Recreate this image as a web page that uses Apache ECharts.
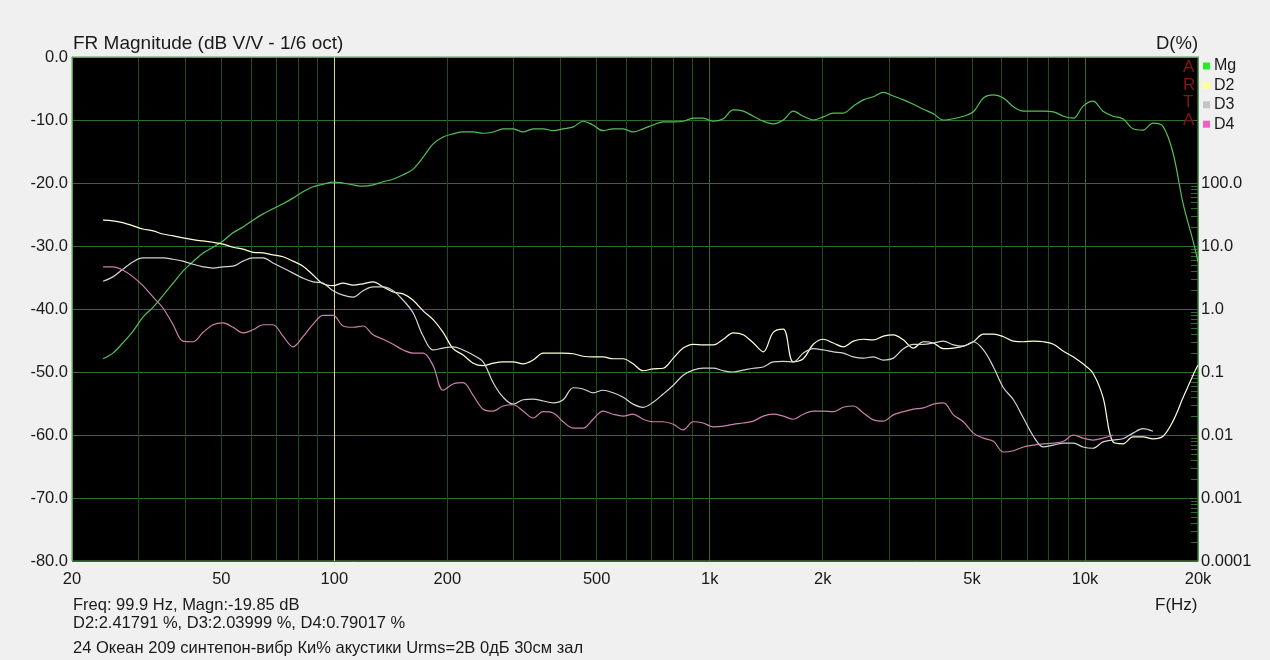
<!DOCTYPE html>
<html>
<head>
<meta charset="utf-8">
<title>FR Magnitude</title>
<script src="https://cdn.jsdelivr.net/npm/echarts@6/dist/echarts.min.js"></script>
<style>
  html, body { margin: 0; padding: 0; background: #f0f0f0; }
  #app { width: 1270px; height: 660px; }
</style>
</head>
<body>
<div id="app"></div>
<script>
// values: frequency in Hz, levels in dB (D% axis: 100% = -20 dB)
const freq = [
  24.2, 25.7, 27.3, 29.1, 30.9, 32.9, 34.9, 37.2, 39.5, 42.0,
  44.7, 47.5, 50.5, 53.7, 57.1, 60.7, 64.6, 68.6, 73.0, 77.6,
  82.5, 87.8, 93.3, 99.2, 105.5, 112.2, 119.3, 126.8, 134.9, 143.4,
  152.5, 162.1, 172.4, 183.3, 194.9, 207.2, 220.3, 234.3, 249.1, 264.9,
  281.6, 299.5, 318.4, 338.6, 360, 383, 407, 433, 460, 489,
  520, 553, 588, 625, 665, 707, 752, 800, 850, 904,
  961, 1022, 1087, 1156, 1229, 1307, 1389, 1477, 1571, 1670,
  1776, 1888, 2008, 2135, 2270, 2414, 2567, 2729, 2902, 3086,
  3281, 3489, 3710, 3945, 4194, 4460, 4742, 5042, 5361, 5701,
  6062, 6445, 6853, 7287, 7749, 8239, 8760, 9315, 9877, 10500,
  11165, 11870, 12620, 13420, 14270, 15175, 16135, 17155, 18240, 19400,
  20000
];
const magDb = [
  -47.9, -47.0, -45.4, -43.5, -41.3, -39.7, -37.9, -35.9, -34.0, -32.5,
  -31.1, -30.2, -29.2, -27.9, -27.0, -25.9, -24.9, -24.1, -23.3, -22.4,
  -21.4, -20.6, -20.2, -19.85, -20.0, -20.3, -20.5, -20.3, -19.8, -19.4,
  -18.7, -17.8, -15.9, -13.8, -12.7, -12.2, -11.9, -11.9, -12.1, -11.9,
  -11.4, -11.4, -11.9, -11.4, -11.4, -11.7, -11.4, -11.1, -10.2, -10.8,
  -11.7, -11.4, -11.4, -11.9, -11.4, -10.8, -10.3, -10.3, -10.2, -9.7,
  -9.7, -10.2, -9.8, -8.4, -8.6, -9.4, -10.2, -10.6, -10.0, -8.6,
  -9.4, -10.0, -9.5, -8.9, -8.9, -7.8, -6.8, -6.3, -5.6, -6.2,
  -6.8, -7.5, -8.3, -9.0, -10.0, -9.8, -9.4, -8.7, -6.5, -6.0,
  -6.5, -7.9, -8.6, -8.6, -8.6, -8.7, -9.4, -9.7, -7.8, -7.0,
  -8.6, -9.4, -9.8, -11.4, -11.6, -10.5, -11.0, -15.2, -23.2, -29.2,
  -32.5
];
const d2Db = [
  -25.9, -26.0, -26.3, -26.8, -27.3, -27.6, -28.1, -28.4, -28.7, -29.0,
  -29.2, -29.4, -29.7, -30.2, -30.5, -31.0, -31.1, -31.4, -31.7, -32.4,
  -33.2, -34.6, -36.0, -36.3, -35.9, -36.2, -36.0, -35.7, -36.5, -37.3,
  -37.6, -38.6, -40.3, -41.7, -43.7, -46.3, -47.3, -48.6, -49.0, -48.6,
  -48.4, -48.4, -48.7, -48.1, -47.0, -47.0, -47.0, -47.1, -47.5, -47.6,
  -47.6, -47.9, -47.9, -48.7, -49.8, -49.5, -49.4, -47.8, -46.2, -45.6,
  -45.7, -45.7, -44.8, -43.8, -44.1, -45.4, -46.8, -43.7, -43.2, -48.4,
  -47.9, -45.6, -44.8, -45.4, -46.0, -45.1, -44.8, -44.9, -44.3, -44.1,
  -44.9, -46.2, -45.2, -45.4, -46.3, -46.2, -45.9, -45.2, -44.0, -44.0,
  -44.4, -45.1, -45.2, -45.1, -45.2, -45.6, -46.7, -47.6, -48.7, -50.2,
  -54.0, -61.1, -61.4, -60.3, -60.3, -60.6, -60.2, -57.8, -54.1, -50.5,
  -48.9
];
const d3Db = [
  -35.6, -34.9, -33.7, -32.5, -31.9, -31.9, -31.9, -32.1, -32.4, -32.9,
  -33.3, -33.5, -33.3, -33.2, -32.4, -31.9, -31.9, -32.7, -33.5, -34.3,
  -35.1, -35.7, -35.9, -37.1, -37.8, -38.1, -37.1, -36.5, -36.5, -37.1,
  -38.6, -40.6, -44.3, -46.5, -46.2, -46.0, -46.5, -47.3, -48.4, -51.7,
  -54.0, -55.1, -54.4, -54.3, -54.6, -54.9, -54.4, -52.5, -52.7, -53.3,
  -52.9, -53.3, -54.0, -55.1, -55.6, -54.8, -53.5, -52.1, -50.5, -49.7,
  -49.4, -49.4, -49.8, -50.0, -49.7, -49.4, -49.2, -48.4, -48.3, -48.4,
  -47.0, -46.3, -46.5, -46.8, -47.0, -47.6, -47.8, -47.6, -48.1, -47.8,
  -46.3, -45.6, -45.6, -45.4, -45.1, -45.7, -45.9, -45.2, -46.5, -49.2,
  -52.5, -54.4, -57.3, -60.2, -61.9, -61.6, -61.3, -61.3, -61.9, -62.1,
  -61.1, -60.8, -60.6, -59.7, -59.0, -59.4, null, null, null, null,
  null
];
const d4Db = [
  -33.3, -33.3, -33.8, -34.9, -36.3, -38.1, -39.8, -42.5, -45.1, -45.2,
  -43.7, -42.5, -42.2, -42.9, -43.8, -43.3, -42.5, -42.5, -44.3, -46.0,
  -44.4, -42.4, -41.0, -41.0, -42.7, -42.9, -42.7, -44.1, -44.8, -45.6,
  -46.5, -47.0, -47.0, -49.0, -52.9, -51.9, -51.7, -53.7, -55.9, -56.2,
  -55.4, -55.2, -56.2, -57.3, -56.3, -56.5, -57.9, -58.9, -58.9, -57.5,
  -56.2, -56.7, -57.0, -56.7, -57.5, -57.9, -57.9, -58.3, -59.2, -57.9,
  -58.1, -58.7, -58.6, -58.3, -58.1, -57.8, -57.0, -56.7, -57.0, -57.5,
  -56.7, -56.2, -56.2, -56.3, -55.6, -55.4, -56.5, -57.6, -57.8, -56.8,
  -56.3, -55.9, -55.7, -55.1, -54.9, -56.8, -57.9, -59.7, -60.5, -61.0,
  -62.7, -62.5, -61.9, -61.6, -61.4, -61.3, -61.0, -60.0, -60.5, -60.8,
  -60.5, -60.0, null, null, null, null, null, null, null, null,
  null
];
const cursorFreq = 99.9;

// axis ticks
const freqLabels = [20, 50, 100, 200, 500, 1000, 2000, 5000, 10000, 20000];
const freqGrid = [
  20, 30, 40, 50, 60, 70, 80, 90, 100,
  200, 300, 400, 500, 600, 700, 800, 900, 1000,
  2000, 3000, 4000, 5000, 6000, 7000, 8000, 9000, 10000, 20000
];
const freqDecades = [100, 1000, 10000];
const pctLabels = [0.0001, 0.001, 0.01, 0.1, 1, 10, 100];
const pctLabelText = ['0.0001', '0.001', '0.01', '0.1', '1.0', '10.0', '100.0'];
const pctMinor = [];
for (const decade of [0.0001, 0.001, 0.01, 0.1, 1, 10]) {
  for (let k = 2; k < 10; k++) pctMinor.push(decade * k);
}

const gridMajor = '#2f6e2f';
const gridMinor = '#1e4d1e';
const frame = '#55a055';
const labelColor = '#1a1a1a';
const font = 'Liberation Sans';

function pair(values) {
  return values.map((v, i) => [freq[i], v]);
}

function line(name, values, legendColor, color) {
  return {
    name: name,
    type: 'line',
    data: pair(values),
    showSymbol: false,
    symbol: 'none',
    connectNulls: false,
    smooth: 0.35,
    itemStyle: { color: legendColor },
    lineStyle: { color: color, width: 1.2 },
    emphasis: { disabled: true },
    z: 5
  };
}

function text(str, left, top, size, color) {
  return {
    text: str,
    left: left,
    top: top,
    padding: 0,
    textStyle: { fontFamily: font, fontSize: size, fontWeight: 'normal', color: color || labelColor }
  };
}

const series = [
  line('Mg', magDb, '#22ee22', '#55c055'),
  line('D2', d2Db, '#ffff99', '#ffffd8'),
  line('D3', d3Db, '#c4c4c4', '#d4d4d4'),
  line('D4', d4Db, '#f060c0', '#cc80ae')
];
series[0].markLine = {
  silent: true,
  symbol: 'none',
  label: { show: false },
  lineStyle: { color: '#d8d890', width: 1, type: 'solid' },
  data: [{ xAxis: cursorFreq }]
};

const myChart = echarts.init(document.getElementById('app'));

const option = {
  animation: false,
  backgroundColor: '#f0f0f0',
  textStyle: { fontFamily: font },
  title: [
    text('FR Magnitude (dB V/V - 1/6 oct)', 73, 34, 19),
    text('D(%)', 1156, 34, 18.5),
    text('F(Hz)', 1155, 597, 17),
    text('Freq: 99.9 Hz, Magn:-19.85 dB', 73, 597, 16.5),
    text('D2:2.41791 %, D3:2.03999 %, D4:0.79017 %', 73, 615, 16.5),
    text('24 Океан 209 синтепон-вибр Ки% акустики Urms=2В 0дБ 30см зал', 73, 640, 16.5),
    {
      text: 'A\nR\nT\nA',
      left: 1183,
      top: 59,
      padding: 0,
      textStyle: { fontFamily: font, fontSize: 17, fontWeight: 'normal', color: '#861616', lineHeight: 17.5 }
    }
  ],
  legend: {
    orient: 'vertical',
    left: 1203,
    top: 58,
    padding: 0,
    icon: 'rect',
    itemWidth: 7,
    itemHeight: 7,
    itemGap: 3.4,
    selectedMode: false,
    textStyle: { fontFamily: font, fontSize: 16, color: labelColor, padding: [0, 0, 0, -1] },
    data: ['Mg', 'D2', 'D3', 'D4']
  },
  grid: {
    left: 72,
    right: 72,
    top: 57,
    bottom: 99,
    show: true,
    backgroundColor: '#000',
    borderColor: frame,
    borderWidth: 1
  },
  xAxis: {
    type: 'log',
    logBase: 10,
    min: 20,
    max: 20000,
    axisLine: { show: true, lineStyle: { color: frame } },
    axisTick: { show: false, customValues: freqGrid },
    minorTick: { show: false },
    axisLabel: {
      customValues: freqLabels,
      showMinLabel: true,
      showMaxLabel: true,
      margin: 10,
      color: labelColor,
      fontFamily: font,
      fontSize: 16.5,
      formatter: function (v) {
        return v >= 1000 ? Math.round(v / 1000) + 'k' : String(Math.round(v));
      }
    },
    splitLine: {
      show: true,
      lineStyle: {
        width: 1,
        color: freqGrid.map(f => (freqDecades.includes(f) ? gridMajor : gridMinor))
      }
    }
  },
  yAxis: [
    {
      type: 'value',
      min: -80,
      max: 0,
      interval: 10,
      axisLine: { show: true, lineStyle: { color: frame } },
      axisTick: { show: false },
      axisLabel: {
        margin: 4,
        color: labelColor,
        fontFamily: font,
        fontSize: 16.5,
        formatter: v => v.toFixed(1)
      },
      splitLine: { show: true, lineStyle: { color: gridMajor, width: 1 } }
    },
    {
      type: 'log',
      logBase: 10,
      min: 0.0001,
      max: 10000,
      position: 'right',
      axisLine: { show: true, lineStyle: { color: frame } },
      axisTick: {
        show: true,
        inside: true,
        length: 7,
        customValues: pctMinor,
        lineStyle: { color: gridMajor }
      },
      minorTick: { show: false },
      splitLine: { show: false },
      axisLabel: {
        customValues: pctLabels,
        margin: 3,
        color: labelColor,
        fontFamily: font,
        fontSize: 16.5,
        formatter: function (v) {
          const i = pctLabels.findIndex(p => Math.abs(Math.log10(p) - Math.log10(v)) < 1e-6);
          return i >= 0 ? pctLabelText[i] : '';
        }
      }
    }
  ],
  series: series
};

myChart.setOption(option);
</script>
</body>
</html>
